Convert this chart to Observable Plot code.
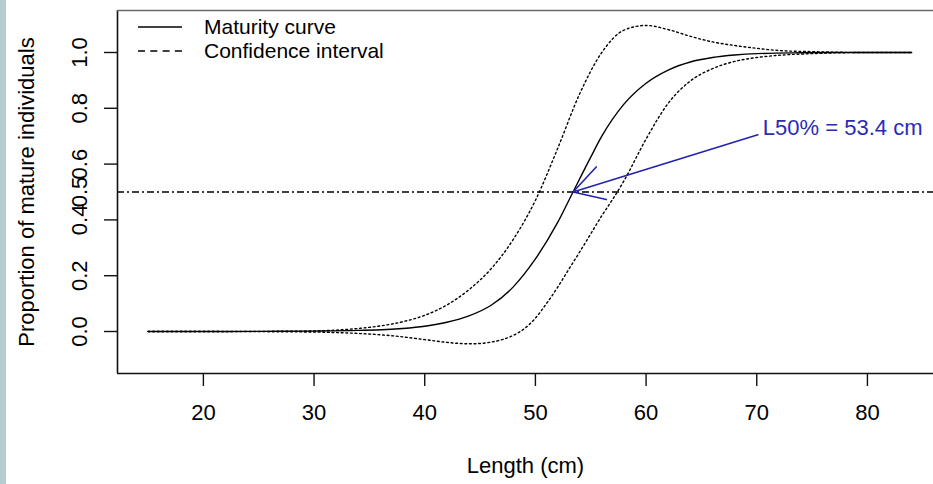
<!DOCTYPE html>
<html>
<head>
<meta charset="utf-8">
<script src="https://cdn.jsdelivr.net/npm/d3@7"></script>
<script src="https://cdn.jsdelivr.net/npm/@observablehq/plot@0.6"></script>
<style>
  html, body { margin: 0; padding: 0; }
  body {
    width: 933px; height: 484px; overflow: hidden;
    background: linear-gradient(to right, #b4ccd0 0, #b4ccd0 6px, #ffffff 6px);
  }
  #wrap { position: relative; width: 933px; height: 484px; }
  #legend {
    position: absolute; left: 138px; top: 15px;
    font-family: "Liberation Sans", Arial, Helvetica, sans-serif;
    font-size: 21px; line-height: 24px; color: #000;
  }
  .row { display: flex; align-items: flex-start; height: 24px; white-space: nowrap; }
  .row svg { display: block; flex: none; }
  .row span { display: block; height: 24px; line-height: 24px; margin-left: 22px; }
</style>
</head>
<body>
<div id="wrap"></div>
<script>
// ---- data ----
// Maturity (logistic) curve
const maturityLen = [15, 20, 25, 30, 34, 38, 40, 42, 44, 46, 48, 50, 52, 53.4, 55, 56, 58, 60, 62, 64, 66, 68, 70, 74, 78, 84];
const maturityP   = [0, 0.0001, 0.0005, 0.0015, 0.004, 0.011, 0.019, 0.033, 0.056, 0.094, 0.16, 0.26, 0.39, 0.5, 0.625, 0.70, 0.815, 0.89, 0.937, 0.966, 0.982, 0.991, 0.996, 0.999, 1, 1];

// Upper confidence bound
const upperLen = [15, 25, 30, 32, 34, 36, 38, 40, 42, 44, 46, 48, 50, 52, 54, 56, 58, 60, 62, 64, 66, 68, 70, 72, 75, 80, 84];
const upperP   = [0, 0.0005, 0.002, 0.005, 0.011, 0.02, 0.035, 0.058, 0.095, 0.15, 0.225, 0.33, 0.47, 0.655, 0.852, 1.0, 1.08, 1.097, 1.082, 1.058, 1.038, 1.025, 1.015, 1.007, 1.003, 1, 1];

// Lower confidence bound
const lowerLen = [15, 25, 30, 34, 37, 40, 42, 44, 45, 46, 47, 48, 49, 50, 51, 52, 53, 54, 55, 56, 57, 58, 60, 62, 64, 66, 68, 70, 72, 75, 80, 84];
const lowerP   = [0, -0.0005, -0.002, -0.007, -0.015, -0.029, -0.039, -0.044, -0.043, -0.038, -0.029, -0.014, 0.01, 0.048, 0.1, 0.158, 0.222, 0.285, 0.35, 0.415, 0.475, 0.54, 0.69, 0.818, 0.898, 0.942, 0.968, 0.982, 0.99, 0.996, 1, 1];

// Reference line and L50 annotation
const refLevel = [0.5];
const l50Arrow = [{x1: 70.1, y1: 0.705, x2: 53.4, y2: 0.5}];
const l50Label = "L50% = 53.4 cm";

// Axes
const xTicks = [20, 30, 40, 50, 60, 70, 80];
const xTickLabels = ["20", "30", "40", "50", "60", "70", "80"];
const yTicks = [0, 0.2, 0.4, 0.6, 0.8, 1.0];
const yTickLabels = ["0.0", "0.2", "0.4", "0.6", "0.8", "1.0"];
const yExtraTick = [0.5];
const yExtraLabel = ["0.5"];
const xTitle = "Length (cm)";
const yTitle = "Proportion of mature individuals";
const legendLabels = ["Maturity curve", "Confidence interval"];

const xDomain = [12.24, 85.97];
const yDomain = [-0.1505, 1.1505];

// ---- tables ----
const toRows = (xs, ys) => xs.map((L, i) => ({L, p: ys[i]}));
const maturity = toRows(maturityLen, maturityP);
const upper = toRows(upperLen, upperP);
const lower = toRows(lowerLen, lowerP);

const FONT = '"Liberation Sans", Arial, Helvetica, sans-serif';
const BLUE_LINE = "#2222ac";
const BLUE_TEXT = "#2a2ab8";

const chart = Plot.plot({
  width: 933,
  height: 484,
  marginLeft: 117,
  marginRight: 0,
  marginTop: 10,
  marginBottom: 111,
  x: {domain: xDomain},
  y: {domain: yDomain},
  style: {background: "transparent", fontFamily: FONT, fontSize: "22px", color: "#000", overflow: "visible"},
  marks: [
    Plot.ruleY(refLevel, {stroke: "#000", strokeWidth: 1.3, strokeDasharray: "7 3 2 3"}),
    Plot.line(upper, {x: "L", y: "p", curve: "monotone-x", stroke: "#000", strokeWidth: 1.4, strokeDasharray: "1.8 2.8"}),
    Plot.line(lower, {x: "L", y: "p", curve: "monotone-x", stroke: "#000", strokeWidth: 1.4, strokeDasharray: "1.8 2.8"}),
    Plot.line(maturity, {x: "L", y: "p", curve: "monotone-x", stroke: "#000", strokeWidth: 1.4}),
    Plot.arrow(l50Arrow, {x1: "x1", y1: "y1", x2: "x2", y2: "y2", stroke: BLUE_LINE, strokeWidth: 1.6, headLength: 32, headAngle: 60}),
    Plot.text(l50Arrow, {x: "x1", y: "y1", text: () => l50Label, textAnchor: "start", lineAnchor: "middle", dx: 5, dy: -7, fill: BLUE_TEXT, fontSize: 22, fontFamily: FONT}),
    // plot box (right edge falls outside the picture)
    Plot.ruleX([xDomain[0]], {stroke: "#111", strokeWidth: 1.6}),
    Plot.ruleY([yDomain[0]], {stroke: "#111", strokeWidth: 1.6}),
    Plot.ruleY([yDomain[1]], {stroke: "#6a6a6a", strokeWidth: 1.6}),
    Plot.axisX({
      ticks: xTicks, tickSize: 13, tickPadding: 18,
      tickFormat: d => xTickLabels[xTicks.indexOf(d)],
      stroke: "#111", strokeWidth: 1.4, fill: "#000", fontSize: 22, fontFamily: FONT,
      label: xTitle, labelAnchor: "center", labelOffset: 99, labelArrow: "none"
    }),
    Plot.axisY({
      ticks: yTicks, tickSize: 13, tickPadding: 18, tickRotate: -90,
      tickFormat: d => yTickLabels[yTicks.indexOf(d)],
      stroke: "#111", strokeWidth: 1.4, fill: "#000", fontSize: 22, fontFamily: FONT,
      label: yTitle, labelAnchor: "center", labelOffset: 99, labelArrow: "none"
    }),
    Plot.axisY({
      ticks: yExtraTick, tickSize: 0, tickPadding: 31, tickRotate: -90,
      tickFormat: d => yExtraLabel[yExtraTick.indexOf(d)],
      fill: "#000", fontSize: 22, fontFamily: FONT, label: null
    })
  ]
});

const wrap = document.getElementById("wrap");
wrap.appendChild(chart);

// Legend (R-style, inside the plot box, no border)
const legend = document.createElement("div");
legend.id = "legend";
legend.innerHTML = `
  <div class="row"><svg width="44" height="24"><line x1="0" x2="44" y1="12" y2="12" stroke="#000" stroke-width="1.4"/></svg><span>${legendLabels[0]}</span></div>
  <div class="row"><svg width="44" height="24"><line x1="0" x2="44" y1="12" y2="12" stroke="#000" stroke-width="1.4" stroke-dasharray="7 5.3"/></svg><span>${legendLabels[1]}</span></div>`;
wrap.appendChild(legend);
</script>
</body>
</html>
